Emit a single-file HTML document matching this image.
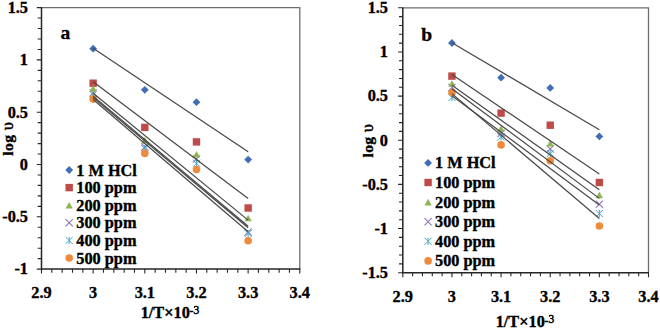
<!DOCTYPE html>
<html><head><meta charset="utf-8"><style>
html,body{margin:0;padding:0;background:#fff;}
body{width:660px;height:329px;overflow:hidden;}
svg{display:block;}
.t{font-family:"Liberation Serif", serif;font-weight:bold;font-size:16.3px;fill:#000;stroke:#000;stroke-width:0.35px;}
.big{font-family:"Liberation Serif", serif;font-weight:bold;font-size:19.5px;fill:#000;stroke:#000;stroke-width:0.35px;}
.sup{font-size:11.5px;font-weight:normal;stroke-width:0.5px;}
.ups{font-weight:normal;font-size:16.5px;stroke-width:0.5px;}
</style></head><body>
<svg width="660" height="329" viewBox="0 0 660 329">
<rect width="660" height="329" fill="#fff"/>
<path d="M41.50 7.60H299.80V269.10" stroke="#6e6e6e" stroke-width="1.3" fill="none"/>
<path d="M36.80 7.60H41.50M37.70 18.06H41.50M37.70 28.52H41.50M37.70 38.98H41.50M37.70 49.44H41.50M36.80 59.90H41.50M37.70 70.36H41.50M37.70 80.82H41.50M37.70 91.28H41.50M37.70 101.74H41.50M36.80 112.20H41.50M37.70 122.66H41.50M37.70 133.12H41.50M37.70 143.58H41.50M37.70 154.04H41.50M36.80 164.50H41.50M37.70 174.96H41.50M37.70 185.42H41.50M37.70 195.88H41.50M37.70 206.34H41.50M36.80 216.80H41.50M37.70 227.26H41.50M37.70 237.72H41.50M37.70 248.18H41.50M37.70 258.64H41.50M36.80 269.10H41.50M41.50 269.10V273.60M51.83 269.10V272.70M62.16 269.10V272.70M72.50 269.10V272.70M82.83 269.10V272.70M93.16 269.10V273.60M103.49 269.10V272.70M113.82 269.10V272.70M124.16 269.10V272.70M134.49 269.10V272.70M144.82 269.10V273.60M155.15 269.10V272.70M165.48 269.10V272.70M175.82 269.10V272.70M186.15 269.10V272.70M196.48 269.10V273.60M206.81 269.10V272.70M217.14 269.10V272.70M227.48 269.10V272.70M237.81 269.10V272.70M248.14 269.10V273.60M258.47 269.10V272.70M268.80 269.10V272.70M279.14 269.10V272.70M289.47 269.10V272.70M299.80 269.10V273.60" stroke="#262626" stroke-width="1.1" fill="none"/>
<path d="M41.50 7.20V269.10H300.30" stroke="#262626" stroke-width="1.5" fill="none"/>
<text x="28.00" y="12.90" text-anchor="end" class="t">1.5</text>
<text x="28.00" y="65.20" text-anchor="end" class="t">1</text>
<text x="28.00" y="117.50" text-anchor="end" class="t">0.5</text>
<text x="28.00" y="169.80" text-anchor="end" class="t">0</text>
<text x="28.00" y="222.10" text-anchor="end" class="t">-0.5</text>
<text x="28.00" y="274.40" text-anchor="end" class="t">-1</text>
<text x="41.50" y="298.30" text-anchor="middle" class="t">2.9</text>
<text x="93.16" y="298.30" text-anchor="middle" class="t">3</text>
<text x="144.82" y="298.30" text-anchor="middle" class="t">3.1</text>
<text x="196.48" y="298.30" text-anchor="middle" class="t">3.2</text>
<text x="248.14" y="298.30" text-anchor="middle" class="t">3.3</text>
<text x="299.80" y="298.30" text-anchor="middle" class="t">3.4</text>
<path d="M89.56 89.40L96.76 96.60M96.76 89.40L89.56 96.60" stroke="#8f74b6" stroke-width="1.05" fill="none"/>
<path d="M141.22 143.40L148.42 150.60M148.42 143.40L141.22 150.60" stroke="#8f74b6" stroke-width="1.05" fill="none"/>
<path d="M192.88 155.40L200.08 162.60M200.08 155.40L192.88 162.60" stroke="#8f74b6" stroke-width="1.05" fill="none"/>
<path d="M244.54 228.40L251.74 235.60M251.74 228.40L244.54 235.60" stroke="#8f74b6" stroke-width="1.05" fill="none"/>
<path d="M89.56 91.20L96.76 98.40M96.76 91.20L89.56 98.40M93.16 91.20L93.16 98.40" stroke="#4aa9c4" stroke-width="1.0" fill="none"/>
<path d="M141.22 145.00L148.42 152.20M148.42 145.00L141.22 152.20M144.82 145.00L144.82 152.20" stroke="#4aa9c4" stroke-width="1.0" fill="none"/>
<path d="M192.88 159.70L200.08 166.90M200.08 159.70L192.88 166.90M196.48 159.70L196.48 166.90" stroke="#4aa9c4" stroke-width="1.0" fill="none"/>
<path d="M244.54 229.90L251.74 237.10M251.74 229.90L244.54 237.10M248.14 229.90L248.14 237.10" stroke="#4aa9c4" stroke-width="1.0" fill="none"/>
<path d="M93.16 44.80L97.06 48.70L93.16 52.60L89.26 48.70Z" fill="#3f6eb6"/>
<path d="M144.82 85.90L148.72 89.80L144.82 93.70L140.92 89.80Z" fill="#3f6eb6"/>
<path d="M196.48 98.30L200.38 102.20L196.48 106.10L192.58 102.20Z" fill="#3f6eb6"/>
<path d="M248.14 155.70L252.04 159.60L248.14 163.50L244.24 159.60Z" fill="#3f6eb6"/>
<rect x="89.46" y="79.50" width="7.40" height="7.40" fill="#be4b48"/>
<rect x="141.12" y="123.70" width="7.40" height="7.40" fill="#be4b48"/>
<rect x="192.78" y="138.20" width="7.40" height="7.40" fill="#be4b48"/>
<rect x="244.44" y="204.30" width="7.40" height="7.40" fill="#be4b48"/>
<path d="M93.16 85.10L96.79 91.70L89.53 91.70Z" fill="#8db653"/>
<path d="M144.82 137.00L148.45 143.60L141.19 143.60Z" fill="#8db653"/>
<path d="M196.48 150.90L200.11 157.50L192.85 157.50Z" fill="#8db653"/>
<path d="M248.14 214.70L251.77 221.30L244.51 221.30Z" fill="#8db653"/>
<circle cx="93.16" cy="99.10" r="3.80" fill="#ef8a3c"/>
<circle cx="144.82" cy="153.50" r="3.80" fill="#ef8a3c"/>
<circle cx="196.48" cy="169.50" r="3.80" fill="#ef8a3c"/>
<circle cx="248.14" cy="240.80" r="3.80" fill="#ef8a3c"/>
<line x1="93.16" y1="48.31" x2="248.14" y2="151.84" stroke="#474747" stroke-width="1.2"/>
<line x1="93.16" y1="81.79" x2="248.14" y2="198.46" stroke="#474747" stroke-width="1.2"/>
<line x1="93.16" y1="93.30" x2="248.14" y2="220.10" stroke="#474747" stroke-width="1.2"/>
<line x1="93.16" y1="96.10" x2="248.14" y2="226.30" stroke="#474747" stroke-width="1.2"/>
<line x1="93.16" y1="97.50" x2="248.14" y2="227.70" stroke="#474747" stroke-width="1.2"/>
<line x1="93.16" y1="99.50" x2="248.14" y2="231.70" stroke="#474747" stroke-width="1.2"/>
<path d="M69.20 166.10L73.10 170.00L69.20 173.90L65.30 170.00Z" fill="#3f6eb6"/>
<text x="76.30" y="175.50" class="t">1 M HCl</text>
<rect x="65.50" y="183.90" width="7.40" height="7.40" fill="#be4b48"/>
<text x="76.30" y="193.10" class="t">100 ppm</text>
<path d="M69.20 201.90L72.83 208.50L65.57 208.50Z" fill="#8db653"/>
<text x="76.30" y="210.70" class="t">200 ppm</text>
<path d="M65.60 219.20L72.80 226.40M72.80 219.20L65.60 226.40" stroke="#8f74b6" stroke-width="1.05" fill="none"/>
<text x="76.30" y="228.30" class="t">300 ppm</text>
<path d="M65.60 236.80L72.80 244.00M72.80 236.80L65.60 244.00M69.20 236.80L69.20 244.00" stroke="#4aa9c4" stroke-width="1.0" fill="none"/>
<text x="76.30" y="245.90" class="t">400 ppm</text>
<circle cx="69.20" cy="258.00" r="3.80" fill="#ef8a3c"/>
<text x="76.30" y="263.50" class="t">500 ppm</text>
<text x="65.30" y="39.30" text-anchor="middle" class="big">a</text>
<text x="170.00" y="317.60" text-anchor="middle" class="t">1/T×10<tspan class="sup" dy="-3.5" dx="-0.3">-</tspan><tspan class="sup" dy="-0.5" dx="0.2">3</tspan></text>
<text transform="translate(13.00 155.80) rotate(-90)" class="t" style="font-size:15.6px;letter-spacing:0.4px">log <tspan class="ups">υ</tspan></text>
<path d="M402.80 7.80H648.50V272.70" stroke="#6e6e6e" stroke-width="1.3" fill="none"/>
<path d="M398.10 7.80H402.80M399.00 16.63H402.80M399.00 25.46H402.80M399.00 34.29H402.80M399.00 43.12H402.80M398.10 51.95H402.80M399.00 60.78H402.80M399.00 69.61H402.80M399.00 78.44H402.80M399.00 87.27H402.80M398.10 96.10H402.80M399.00 104.93H402.80M399.00 113.76H402.80M399.00 122.59H402.80M399.00 131.42H402.80M398.10 140.25H402.80M399.00 149.08H402.80M399.00 157.91H402.80M399.00 166.74H402.80M399.00 175.57H402.80M398.10 184.40H402.80M399.00 193.23H402.80M399.00 202.06H402.80M399.00 210.89H402.80M399.00 219.72H402.80M398.10 228.55H402.80M399.00 237.38H402.80M399.00 246.21H402.80M399.00 255.04H402.80M399.00 263.87H402.80M398.10 272.70H402.80M402.80 272.70V277.20M412.63 272.70V276.30M422.46 272.70V276.30M432.28 272.70V276.30M442.11 272.70V276.30M451.94 272.70V277.20M461.77 272.70V276.30M471.60 272.70V276.30M481.42 272.70V276.30M491.25 272.70V276.30M501.08 272.70V277.20M510.91 272.70V276.30M520.74 272.70V276.30M530.56 272.70V276.30M540.39 272.70V276.30M550.22 272.70V277.20M560.05 272.70V276.30M569.88 272.70V276.30M579.70 272.70V276.30M589.53 272.70V276.30M599.36 272.70V277.20M609.19 272.70V276.30M619.02 272.70V276.30M628.84 272.70V276.30M638.67 272.70V276.30M648.50 272.70V277.20" stroke="#262626" stroke-width="1.1" fill="none"/>
<path d="M402.80 7.40V272.70H649.00" stroke="#262626" stroke-width="1.5" fill="none"/>
<text x="388.00" y="13.10" text-anchor="end" class="t">1.5</text>
<text x="388.00" y="57.25" text-anchor="end" class="t">1</text>
<text x="388.00" y="101.40" text-anchor="end" class="t">0.5</text>
<text x="388.00" y="145.55" text-anchor="end" class="t">0</text>
<text x="388.00" y="189.70" text-anchor="end" class="t">-0.5</text>
<text x="388.00" y="233.85" text-anchor="end" class="t">-1</text>
<text x="388.00" y="278.00" text-anchor="end" class="t">-1.5</text>
<text x="402.80" y="301.90" text-anchor="middle" class="t">2.9</text>
<text x="451.94" y="301.90" text-anchor="middle" class="t">3</text>
<text x="501.08" y="301.90" text-anchor="middle" class="t">3.1</text>
<text x="550.22" y="301.90" text-anchor="middle" class="t">3.2</text>
<text x="599.36" y="301.90" text-anchor="middle" class="t">3.3</text>
<text x="648.50" y="301.90" text-anchor="middle" class="t">3.4</text>
<path d="M448.34 83.90L455.54 91.10M455.54 83.90L448.34 91.10" stroke="#8f74b6" stroke-width="1.05" fill="none"/>
<path d="M497.48 129.90L504.68 137.10M504.68 129.90L497.48 137.10" stroke="#8f74b6" stroke-width="1.05" fill="none"/>
<path d="M546.62 145.40L553.82 152.60M553.82 145.40L546.62 152.60" stroke="#8f74b6" stroke-width="1.05" fill="none"/>
<path d="M595.76 200.60L602.96 207.80M602.96 200.60L595.76 207.80" stroke="#8f74b6" stroke-width="1.05" fill="none"/>
<path d="M448.34 93.90L455.54 101.10M455.54 93.90L448.34 101.10M451.94 93.90L451.94 101.10" stroke="#4aa9c4" stroke-width="1.0" fill="none"/>
<path d="M497.48 133.40L504.68 140.60M504.68 133.40L497.48 140.60M501.08 133.40L501.08 140.60" stroke="#4aa9c4" stroke-width="1.0" fill="none"/>
<path d="M546.62 149.90L553.82 157.10M553.82 149.90L546.62 157.10M550.22 149.90L550.22 157.10" stroke="#4aa9c4" stroke-width="1.0" fill="none"/>
<path d="M595.76 209.90L602.96 217.10M602.96 209.90L595.76 217.10M599.36 209.90L599.36 217.10" stroke="#4aa9c4" stroke-width="1.0" fill="none"/>
<path d="M451.94 39.10L455.84 43.00L451.94 46.90L448.04 43.00Z" fill="#3f6eb6"/>
<path d="M501.08 73.80L504.98 77.70L501.08 81.60L497.18 77.70Z" fill="#3f6eb6"/>
<path d="M550.22 84.00L554.12 87.90L550.22 91.80L546.32 87.90Z" fill="#3f6eb6"/>
<path d="M599.36 132.50L603.26 136.40L599.36 140.30L595.46 136.40Z" fill="#3f6eb6"/>
<rect x="448.24" y="72.40" width="7.40" height="7.40" fill="#be4b48"/>
<rect x="497.38" y="109.40" width="7.40" height="7.40" fill="#be4b48"/>
<rect x="546.52" y="121.50" width="7.40" height="7.40" fill="#be4b48"/>
<rect x="595.66" y="178.80" width="7.40" height="7.40" fill="#be4b48"/>
<path d="M451.94 80.20L455.57 86.80L448.31 86.80Z" fill="#8db653"/>
<path d="M501.08 125.20L504.71 131.80L497.45 131.80Z" fill="#8db653"/>
<path d="M550.22 139.90L553.85 146.50L546.59 146.50Z" fill="#8db653"/>
<path d="M599.36 191.60L602.99 198.20L595.73 198.20Z" fill="#8db653"/>
<circle cx="451.94" cy="92.50" r="3.80" fill="#ef8a3c"/>
<circle cx="501.08" cy="144.90" r="3.80" fill="#ef8a3c"/>
<circle cx="550.22" cy="160.80" r="3.80" fill="#ef8a3c"/>
<circle cx="599.36" cy="226.00" r="3.80" fill="#ef8a3c"/>
<line x1="451.94" y1="42.69" x2="599.36" y2="129.81" stroke="#474747" stroke-width="1.2"/>
<line x1="451.94" y1="74.53" x2="599.36" y2="173.92" stroke="#474747" stroke-width="1.2"/>
<line x1="451.94" y1="85.19" x2="599.36" y2="189.86" stroke="#474747" stroke-width="1.2"/>
<line x1="451.94" y1="88.71" x2="599.36" y2="198.39" stroke="#474747" stroke-width="1.2"/>
<line x1="451.94" y1="95.70" x2="599.36" y2="205.05" stroke="#474747" stroke-width="1.2"/>
<line x1="451.94" y1="93.59" x2="599.36" y2="218.51" stroke="#474747" stroke-width="1.2"/>
<path d="M428.10 159.00L432.00 162.90L428.10 166.80L424.20 162.90Z" fill="#3f6eb6"/>
<text x="435.00" y="168.40" class="t">1 M HCl</text>
<rect x="424.40" y="178.80" width="7.40" height="7.40" fill="#be4b48"/>
<text x="435.00" y="188.00" class="t">100 ppm</text>
<path d="M428.10 198.80L431.73 205.40L424.47 205.40Z" fill="#8db653"/>
<text x="435.00" y="207.60" class="t">200 ppm</text>
<path d="M424.50 218.10L431.70 225.30M431.70 218.10L424.50 225.30" stroke="#8f74b6" stroke-width="1.05" fill="none"/>
<text x="435.00" y="227.20" class="t">300 ppm</text>
<path d="M424.50 237.70L431.70 244.90M431.70 237.70L424.50 244.90M428.10 237.70L428.10 244.90" stroke="#4aa9c4" stroke-width="1.0" fill="none"/>
<text x="435.00" y="246.80" class="t">400 ppm</text>
<circle cx="428.10" cy="260.90" r="3.80" fill="#ef8a3c"/>
<text x="435.00" y="266.40" class="t">500 ppm</text>
<text x="426.70" y="40.60" text-anchor="middle" class="big">b</text>
<text x="525.00" y="327.40" text-anchor="middle" class="t">1/T×10<tspan class="sup" dy="-3.5" dx="-0.3">-</tspan><tspan class="sup" dy="-0.5" dx="0.2">3</tspan></text>
<text transform="translate(373.20 157.60) rotate(-90)" class="t" style="font-size:15.6px;letter-spacing:0.4px">log <tspan class="ups">υ</tspan></text>
</svg>
</body></html>
